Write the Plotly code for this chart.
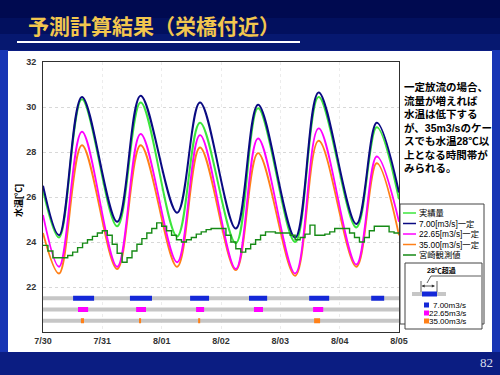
import plotly.graph_objects as go
import pandas as pd

# ---------------- data ----------------
key_times = ["2006-07-30 00:00", "2006-07-30 06:30", "2006-07-30 15:45",
             "2006-07-31 06:00", "2006-07-31 15:30", "2006-08-01 06:15",
             "2006-08-01 15:30", "2006-08-02 06:00", "2006-08-02 15:00",
             "2006-08-03 06:00", "2006-08-03 15:30", "2006-08-04 06:45",
             "2006-08-04 15:00", "2006-08-05 00:00"]
actual = [26.3, 24.2, 30.35, 24.7, 30.2, 24.25, 29.3, 23.95, 29.95, 24.0, 30.45, 24.65, 29.1, 25.9]
q700 = [26.5, 24.3, 30.45, 24.9, 30.5, 25.3, 30.2, 24.6, 30.1, 24.2, 30.65, 24.8, 29.3, 26.2]
q2265 = [25.2, 22.9, 28.9, 22.9, 28.8, 23.1, 28.75, 22.8, 28.6, 22.6, 29.05, 23.0, 27.8, 24.9]
q3500 = [24.4, 22.6, 28.3, 22.8, 28.3, 22.9, 28.2, 22.75, 27.95, 22.5, 28.5, 22.9, 27.5, 24.3]

obs_start = "2006-07-30 00:00"
obs_step_hours = 2
obs_values = [23.85, 23.6, 23.3, 23.3, 23.3, 23.4, 23.55, 23.75, 23.95, 24.1, 24.25, 24.4,
              24.5, 24.3, 23.9, 23.5, 23.1, 23.3, 23.6, 23.9, 24.15, 24.4, 24.6, 24.85,
              24.7, 24.5, 24.3, 24.1, 24.0, 24.1, 24.2, 24.35, 24.45, 24.55, 24.6, 24.6,
              24.6, 24.3, 24.0, 23.7, 23.55, 23.7, 23.9, 24.1, 24.3, 24.45, 24.45, 24.4,
              24.4, 24.4, 24.3, 24.1, 24.2, 24.35, 24.75, 24.3, 24.3, 24.35, 24.45, 24.6,
              24.6, 24.6, 24.4, 24.2, 24.0, 24.2, 24.5, 24.7, 24.7, 24.7, 24.45, 24.4, 24.4]

# periods above 28 degC (start, end)
over28_700 = [("2006-07-30 12:10", "2006-07-30 20:40"), ("2006-07-31 11:10", "2006-07-31 20:05"),
              ("2006-08-01 11:30", "2006-08-01 19:10"), ("2006-08-02 11:20", "2006-08-02 18:40"),
              ("2006-08-03 11:40", "2006-08-03 19:45"), ("2006-08-04 12:45", "2006-08-04 18:00")]
over28_2265 = [("2006-07-30 14:10", "2006-07-30 18:15"), ("2006-07-31 13:40", "2006-07-31 17:40"),
               ("2006-08-01 13:55", "2006-08-01 17:10"), ("2006-08-02 13:20", "2006-08-02 17:00"),
               ("2006-08-03 13:15", "2006-08-03 17:20")]
over28_3500 = [("2006-07-30 15:20", "2006-07-30 16:35"), ("2006-07-31 14:50", "2006-07-31 15:40"),
               ("2006-08-01 14:45", "2006-08-01 15:35"), ("2006-08-03 13:40", "2006-08-03 16:05")]

tick_dates = ["2006-07-30", "2006-07-31", "2006-08-01", "2006-08-02", "2006-08-03", "2006-08-04", "2006-08-05"]
tick_labels = ["7/30", "7/31", "8/01", "8/02", "8/03", "8/04", "8/05"]
y_ticks = [22, 24, 26, 28, 30, 32]

series_names = ["実績量", "7.00[m3/s]一定", "22.65[m3/s]一定", "35.00[m3/s]一定", "宮崎観測値"]
band_labels = ["7.00m3/s", "22.65m3/s", "35.00m3/s"]
band_levels = [21.5, 21.0, 20.5]

# ---------------- styles ----------------
C_ACT = "#3ce63c"
C_700 = "#0a0a82"
C_2265 = "#ff00ff"
C_3500 = "#ff8018"
C_OBS = "#168a16"
C_GRAY = "#c6c6c6"
C_BLUE = "#1428d8"
JP = "Noto Sans CJK JP"
MIX = "Liberation Sans, Noto Sans CJK JP"

obs_times = pd.date_range(obs_start, periods=len(obs_values), freq=f"{obs_step_hours}h")

fig = go.Figure()

# gray bands
x_start, x_end = tick_dates[0], tick_dates[-1]
for lv in band_levels:
    fig.add_trace(go.Scatter(x=[x_start, x_end], y=[lv, lv], mode="lines",
                             line=dict(color=C_GRAY, width=4), showlegend=False, hoverinfo="skip"))

def seg_trace(segs, lv, color):
    xs, ys = [], []
    for s, e in segs:
        xs += [s, e, None]
        ys += [lv, lv, None]
    return go.Scatter(x=xs, y=ys, mode="lines", line=dict(color=color, width=5),
                      showlegend=False, hoverinfo="skip")

fig.add_trace(seg_trace(over28_700, band_levels[0], C_BLUE))
fig.add_trace(seg_trace(over28_2265, band_levels[1], C_2265))
fig.add_trace(seg_trace(over28_3500, band_levels[2], C_3500))

spl = dict(shape="spline", smoothing=1.0)
fig.add_trace(go.Scatter(x=key_times, y=q3500, mode="lines", line=dict(color=C_3500, width=1.8, **spl), showlegend=False))
fig.add_trace(go.Scatter(x=key_times, y=q2265, mode="lines", line=dict(color=C_2265, width=1.8, **spl), showlegend=False))
fig.add_trace(go.Scatter(x=key_times, y=actual, mode="lines", line=dict(color=C_ACT, width=2, **spl), showlegend=False))
fig.add_trace(go.Scatter(x=key_times, y=q700, mode="lines", line=dict(color=C_700, width=2, **spl), showlegend=False))
fig.add_trace(go.Scatter(x=obs_times, y=obs_values, mode="lines", line=dict(color=C_OBS, width=1.4, shape="hv"), showlegend=False))

# ---------------- layout helpers (pixel -> paper) ----------------
L, R, T, B = 43, 399, 62, 332
def px(x): return (x - L) / (R - L)
def py(y): return (B - y) / (B - T)

shapes = []
anns = []

def rect(x0, y0, x1, y1, fill=None, line=None, lw=0, layer="below"):
    shapes.append(dict(type="rect", xref="paper", yref="paper", x0=px(x0), x1=px(x1), y0=py(y1), y1=py(y0),
                       fillcolor=fill, line=dict(color=line, width=lw) if line else dict(width=0), layer=layer))

def hline(x0, x1, y, color, w, layer="above"):
    shapes.append(dict(type="line", xref="paper", yref="paper", x0=px(x0), x1=px(x1), y0=py(y), y1=py(y),
                       line=dict(color=color, width=w), layer=layer))

def seg(x0, y0, x1, y1, color, w):
    shapes.append(dict(type="line", xref="paper", yref="paper", x0=px(x0), x1=px(x1), y0=py(y0), y1=py(y1),
                       line=dict(color=color, width=w), layer="above"))

def text(x, y, s, size, color="black", xa="left", bold=False, family=JP, angle=0):
    anns.append(dict(xref="paper", yref="paper", x=px(x), y=py(y), text=(f"<b>{s}</b>" if bold else s),
                     showarrow=False, xanchor=xa, yanchor="middle", textangle=angle,
                     font=dict(family=family, size=size, color=color)))

# background bands
rect(0, 0, 500, 18, fill="#000a50")
rect(0, 18, 500, 34, fill="#02105e")
rect(0, 34, 500, 50, fill="#061870")
rect(0, 50, 8, 352, fill="#1735b4")
rect(492, 50, 500, 352, fill="#1735b4")
# white panel
rect(8, 51, 492, 352, fill="white")

# title + underline
text(26, 25, "予測計算結果（栄橋付近）", 21, color="#f2c64e", bold=True)
hline(17, 300, 42, "white", 2.2)

# page number
text(486, 362, "82", 13, color="#d8dcec", xa="center", family="Liberation Serif")

# y axis title
text(18, 201, "水温[℃]", 9, bold=True, angle=-90, xa="center", family=MIX)

# right commentary
comment = ["一定放流の場合、", "流量が増えれば", "水温は低下する", "が、35m3/sのケー",
           "スでも水温28℃以", "上となる時間帯が", "みられる。"]
for i, line in enumerate(comment):
    text(402, 87 + i * 13.5, line, 10.5, bold=True, family=MIX)

# legend box
rect(400, 204, 484, 324, fill="white", line="#444444", lw=1, layer="above")
leg_colors = [C_ACT, C_700, C_2265, C_3500, C_OBS]
for i, (nm, col) in enumerate(zip(series_names, leg_colors)):
    yy = 213 + i * 10.5
    hline(403, 416, yy, col, 1.5)
    text(417, yy, nm, 8.3, family=MIX)

# explanation box
rect(405, 263, 482, 329, fill="white", line="#444444", lw=1, layer="above")
text(441, 270, "28℃超過", 7, bold=True, xa="center", family=MIX)
seg(431, 276, 481, 276, "#333333", 0.8)
seg(431, 276, 427, 283, "#333333", 0.8)
seg(421, 281, 421, 292, "#333333", 0.8)
seg(437, 281, 437, 292, "#333333", 0.8)
anns.append(dict(xref="paper", yref="paper", axref="pixel", ayref="pixel",
                 x=px(421.5), y=py(286), ax=15, ay=0, text="", showarrow=True,
                 arrowhead=2, arrowsize=0.8, arrowwidth=0.8, startarrowhead=2, arrowside="end+start",
                 startarrowsize=0.8, arrowcolor="#333333"))
hline(412, 446, 294, C_GRAY, 4)
hline(422, 437, 294, C_BLUE, 5)
sq_colors = [C_BLUE, C_2265, C_3500]
for i, (lab, col) in enumerate(zip(band_labels, sq_colors)):
    yy = 305 + i * 8
    rect(424, yy - 2.5, 429, yy + 2.5, fill=col, layer="above")
    text(468, yy, lab, 8, xa="right", family=MIX)

fig.update_layout(
    width=500, height=375, autosize=False,
    margin=dict(l=L, r=500 - R, t=T, b=375 - B),
    paper_bgcolor="#0b1d82", plot_bgcolor="white",
    shapes=shapes, annotations=anns, showlegend=False,
    xaxis=dict(range=[tick_dates[0], tick_dates[-1]], tickvals=tick_dates, ticktext=tick_labels,
               showgrid=True, gridcolor="#ececec", griddash="dot", gridwidth=1,
               showline=True, linecolor="#303030", linewidth=1, mirror=True, ticks="",
               tickfont=dict(family="Liberation Sans", size=9, color="#333333", weight="bold"),
               zeroline=False),
    yaxis=dict(range=[20, 32], tickvals=y_ticks, showgrid=True, gridcolor="#d8d8d8", griddash="dot",
               showline=True, linecolor="#303030", linewidth=1, mirror=True, ticks="",
               ticklabelstandoff=4,
               tickfont=dict(family="Liberation Sans", size=9, color="#333333", weight="bold"),
               zeroline=False),
)

fig.write_html("out.html", config={"displayModeBar": False},
               post_script="document.body.style.margin='0';document.body.style.overflow='hidden';")
